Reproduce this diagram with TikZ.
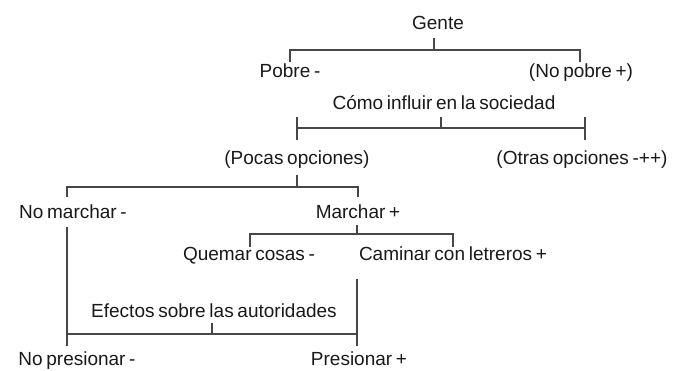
\documentclass[tikz,border=0pt]{standalone}
\usepackage{fontspec}
\setmainfont[WordSpace=0.7]{Liberation Sans}
\usetikzlibrary{positioning}
\tikzset{lbl/.style={inner sep=0pt, anchor=base, text=black!90, font=\fontsize{19}{19}\selectfont}}
\tikzset{brk/.style={draw, line width=1.4pt, black!72}}

\begin{document}
\begin{tikzpicture}[x=1pt, y=-1pt]
		\useasboundingbox (0,0) rectangle (673,371);
		
		% level 1
		\node[lbl] (gente) at (438,30){Gente};
		\node[lbl] (pobre) at (290,78){Pobre -};
		\node[lbl] (nopobre) at (581,78){(No pobre +)};
		\coordinate (g-top) at (434,38);
		\coordinate (g-mid) at (434,50);
		\coordinate (g-l) at (290,62);
		\coordinate (g-r) at (580,62);
		\draw[brk] (g-top) -- (g-mid);
		\draw[brk] (g-l) |- (g-mid) -| (g-r);
		
		% level 2
		\node[lbl] (influir) at (444,110){Cómo influir en la sociedad};
		\node[lbl] (pocas) at (297,165){(Pocas opciones)};
		\node[lbl] (otras) at (582,165){(Otras opciones -++)};
		\coordinate (i-top) at (441,117);
		\coordinate (i-mid) at (441,128);
		\coordinate (i-lt) at (297,117);
		\coordinate (i-lb) at (297,140);
		\coordinate (i-rt) at (585,117);
		\coordinate (i-rb) at (585,140);
		\draw[brk] (i-top) -- (i-mid);
		\draw[brk] (i-lt) -- (i-lb);
		\draw[brk] (i-rt) -- (i-rb);
		\draw[brk] (i-lt |- i-mid) -- (i-rt |- i-mid);
		
		% level 3
		\node[lbl] (nomarchar) at (73,219){No marchar -};
		\node[lbl] (marchar) at (358,219){Marchar +};
		\coordinate (p-top) at (297,175);
		\coordinate (p-mid) at (297,187);
		\coordinate (p-l) at (67,197);
		\coordinate (p-r) at (358,197);
		\draw[brk] (p-top) -- (p-mid);
		\draw[brk] (p-l) |- (p-mid) -| (p-r);
		
		% level 4
		\node[lbl] (quemar) at (249,261){Quemar cosas -};
		\node[lbl] (caminar) at (453,261){Caminar con letreros +};
		\coordinate (m-top) at (357,225);
		\coordinate (m-mid) at (357,234);
		\coordinate (m-l) at (250,247);
		\coordinate (m-r) at (453,247);
		\draw[brk] (m-top) -- (m-mid);
		\draw[brk] (m-l) |- (m-mid) -| (m-r);
		
		% level 5
		\node[lbl] (efectos) at (214,318){Efectos sobre las autoridades};
		\node[lbl] (nopresionar) at (77,366){No presionar -};
		\node[lbl] (presionar) at (359,366){Presionar +};
		\coordinate (e-top) at (212,323);
		\coordinate (e-mid) at (212,334);
		\coordinate (e-lt) at (67,227);
		\coordinate (e-lb) at (67,346);
		\coordinate (e-rt) at (357,279);
		\coordinate (e-rb) at (357,346);
		\draw[brk] (e-top) -- (e-mid);
		\draw[brk] (e-lt) -- (e-lb);
		\draw[brk] (e-rt) -- (e-rb);
		\draw[brk] (e-lt |- e-mid) -- (e-rt |- e-mid);
	\end{tikzpicture}
\end{document}
